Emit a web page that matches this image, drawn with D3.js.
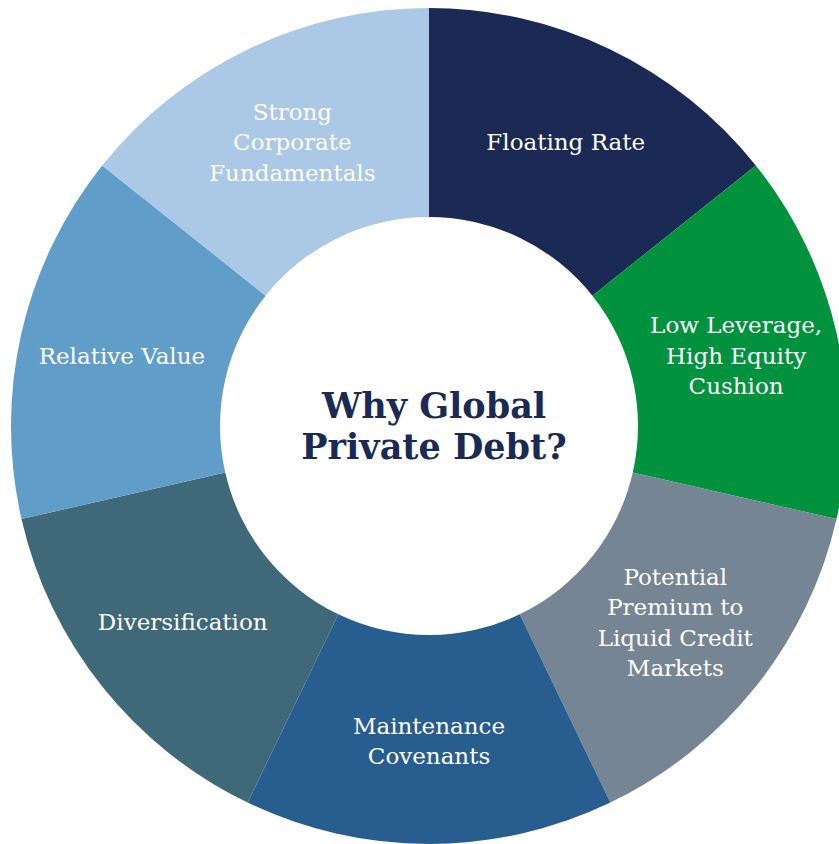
<!DOCTYPE html>
<html>
<head>
<meta charset="utf-8">
<script src="https://cdn.jsdelivr.net/npm/d3@7/dist/d3.min.js"></script>
<style>
html,body{margin:0;padding:0;background:#fff;}
svg{display:block;}
</style>
</head>
<body>
<svg id="chart" width="839" height="844"></svg>
<script>
const categories = [
  ["Floating Rate"],
  ["Low Leverage,", "High Equity", "Cushion"],
  ["Potential", "Premium to", "Liquid Credit", "Markets"],
  ["Maintenance", "Covenants"],
  ["Diversification"],
  ["Relative Value"],
  ["Strong", "Corporate", "Fundamentals"]
];
const values = [1, 1, 1, 1, 1, 1, 1];
const colors = ["#1b2a54", "#00923c", "#768594", "#275e8f", "#3f6979", "#619dc9", "#abc8e7"];
const titleLines = ["Why Global", "Private Debt?"];

const svg = d3.select("#chart");
const cx = 429, cy = 426, R = 418, r = 209;
const g = svg.append("g").attr("transform", `translate(${cx},${cy})`);

const data = categories.map((c, i) => ({label: c, value: values[i], color: colors[i]}));
const pie = d3.pie().value(d => d.value).sort(null).startAngle(0).endAngle(2 * Math.PI);
const arc = d3.arc().innerRadius(r).outerRadius(R);
const labelArc = d3.arc().innerRadius(r + 106).outerRadius(r + 106);

const arcs = pie(data);
g.selectAll("path.slice").data(arcs).enter().append("path")
  .attr("class", "slice")
  .attr("d", arc)
  .attr("fill", d => d.data.color);

const lineH = 30.5;
const labels = g.selectAll("text.lbl").data(arcs).enter().append("text")
  .attr("class", "lbl")
  .attr("text-anchor", "middle")
  .attr("fill", "#ffffff")
  .style("font-family", "'DejaVu Serif', serif")
  .style("font-size", "23px")
  .attr("transform", d => {
    const [x, y] = labelArc.centroid(d);
    return `translate(${x},${y})`;
  });
labels.each(function(d) {
  const lines = d.data.label;
  const t = d3.select(this);
  lines.forEach((ln, i) => {
    t.append("tspan")
      .attr("x", 0)
      .attr("y", (i - (lines.length - 1) / 2) * lineH)
      .attr("dy", "0.35em")
      .text(ln);
  });
});

const title = g.append("text")
  .attr("text-anchor", "middle")
  .attr("fill", "#1b2a54")
  .style("font-family", "'DejaVu Serif', serif")
  .style("font-weight", "bold")
  .style("font-size", "35px");
titleLines.forEach((ln, i) => {
  title.append("tspan").attr("x", 5).attr("y", (i - 0.5) * 41).attr("dy", "0.35em").text(ln);
});
</script>
</body>
</html>
